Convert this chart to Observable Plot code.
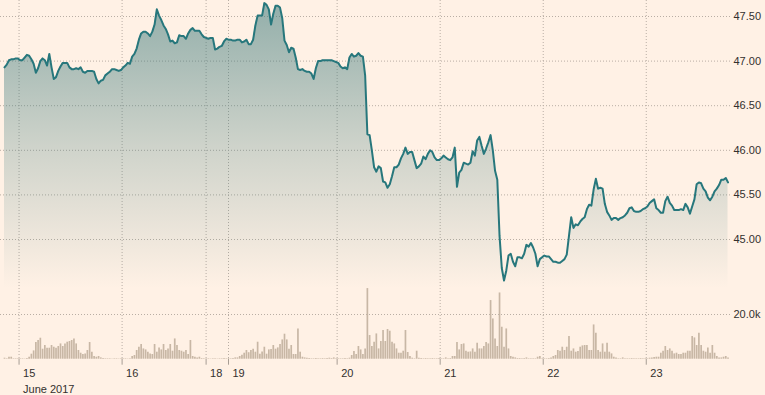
<!DOCTYPE html>
<html><head><meta charset="utf-8">
<script src="https://cdn.jsdelivr.net/npm/d3@7"></script>
<script src="https://cdn.jsdelivr.net/npm/@observablehq/plot@0.6"></script>
<style>
html,body{margin:0;padding:0;background:#fff1e5;}
#chart{position:relative;width:765px;height:395px;background:#fff1e5;overflow:hidden;}
#chart svg{position:absolute;left:0;top:0;}
</style></head><body><div id="chart"></div>
<script>
// Price per half-hour slot (index = slot)
const prices = [
46.93,46.96,47.01,47.02,47.02,47.03,47.03,47.01,47.01,47.04,
47.07,47.06,47.02,46.97,46.87,46.92,47.00,47.03,47.01,46.95,
47.08,46.93,46.80,46.82,46.89,46.94,46.98,46.98,46.98,46.93,
46.91,46.91,46.92,46.91,46.93,46.88,46.87,46.89,46.89,46.89,
46.88,46.80,46.75,46.78,46.79,46.84,46.86,46.88,46.91,46.91,
46.90,46.89,46.90,46.93,46.95,46.98,46.97,47.05,47.08,47.14,
47.24,47.31,47.33,47.33,47.31,47.28,47.33,47.41,47.58,47.51,
47.46,47.40,47.36,47.30,47.22,47.23,47.20,47.21,47.29,47.28,
47.28,47.25,47.31,47.35,47.37,47.34,47.34,47.34,47.30,47.27,
47.26,47.25,47.26,47.26,47.13,47.14,47.16,47.17,47.22,47.25,
47.24,47.24,47.23,47.23,47.24,47.24,47.21,47.22,47.24,47.19,
47.19,47.24,47.40,47.51,47.51,47.51,47.65,47.63,47.58,47.41,
47.53,47.62,47.62,47.60,47.48,47.23,47.18,47.10,47.15,47.14,
47.04,46.91,46.90,46.91,46.89,46.88,46.88,46.86,46.80,46.92,
47.00,47.00,47.01,47.01,47.01,47.01,47.01,47.00,46.99,46.98,
46.94,46.92,46.93,46.91,47.04,47.08,47.05,47.06,47.09,47.06,
47.05,46.84,46.18,46.17,46.00,45.81,45.76,45.82,45.80,45.65,
45.64,45.58,45.62,45.71,45.81,45.81,45.84,45.91,45.96,46.03,
45.96,45.98,45.98,45.89,45.80,45.82,45.85,45.93,45.90,45.96,
46.00,45.98,45.92,45.89,45.89,45.91,45.94,45.92,45.90,45.89,
45.92,46.03,45.59,45.75,45.78,45.86,45.85,45.84,45.86,45.99,
45.94,46.11,46.15,46.05,45.96,46.02,46.09,46.17,46.00,45.77,
45.67,45.04,44.68,44.54,44.65,44.82,44.84,44.75,44.70,44.80,
44.80,44.79,44.84,44.94,44.92,44.96,44.91,44.84,44.70,44.78,
44.80,44.82,44.81,44.81,44.78,44.75,44.75,44.74,44.74,44.76,
44.78,44.83,45.04,45.25,45.13,45.17,45.16,45.20,45.23,45.25,
45.34,45.39,45.38,45.56,45.68,45.57,45.58,45.57,45.40,45.31,
45.27,45.22,45.24,45.24,45.22,45.24,45.25,45.27,45.30,45.35,
45.36,45.32,45.31,45.31,45.32,45.34,45.35,45.37,45.41,45.43,
45.45,45.35,45.33,45.30,45.30,45.43,45.48,45.41,45.38,45.33,
45.33,45.33,45.34,45.33,45.40,45.36,45.29,45.37,45.45,45.62,
45.64,45.63,45.57,45.54,45.47,45.44,45.48,45.54,45.57,45.61,
45.67,45.67,45.69,45.64
];
// Volume per slot (contracts)
const volumes = [
450,220,890,890,220,220,220,220,220,130,
310,890,2240,3710,7460,8360,9390,4470,6120,4920,
4920,6120,5360,4920,5680,6840,5680,6840,7600,7910,
8360,9070,6840,3890,2680,2100,2370,3890,7460,3130,
1210,890,1210,580,310,220,220,220,130,220,
220,130,220,220,220,130,220,1210,1650,3890,
5360,6570,4600,4160,3130,2370,2100,6570,3130,5050,
4160,6570,3890,4600,6570,3580,9070,6120,3890,3580,
3130,3890,2100,8360,1210,890,580,890,310,220,
130,220,130,220,220,130,220,220,310,220,
220,220,310,580,580,1210,1790,2680,3890,2910,
3890,4470,3130,7600,2240,3260,5360,2240,4160,4340,
6120,4470,5050,6570,8630,11180,8630,4470,6120,2100,
2100,13540,3130,890,580,450,310,220,220,310,
220,220,310,220,310,450,310,580,220,220,
220,220,310,220,450,1650,3440,2100,5680,4160,
2100,4600,31600,10590,5680,7600,11310,4600,7910,12830,
7910,13280,12520,7600,6840,4600,2680,2680,3580,12830,
3000,1210,450,220,3580,450,310,220,310,220,
220,310,220,220,310,220,220,580,220,310,
1210,1210,7460,4160,6570,6840,3580,3130,3260,4600,
3130,7150,4600,4600,5680,7460,6840,26240,18010,9070,
5680,29640,14300,5360,13540,4600,1210,890,580,310,
310,220,310,580,220,220,220,220,890,1210,
220,220,220,310,580,1210,1650,3890,3580,5360,
3890,5360,10150,3580,4600,3130,3440,5360,5950,6120,
6120,3890,3890,15330,11620,3890,3130,6840,3130,7150,
3130,2370,890,580,220,220,580,220,220,220,
310,220,220,220,310,220,220,220,450,580,
760,890,890,2680,3580,5680,3890,4600,3580,2370,
2680,2100,2100,2680,2680,3580,3580,10150,9520,6120,
11620,6120,3580,3130,5050,2680,6120,2680,1210,580,
580,890,1210,580
];
// Day tick labels and the slot index where each day begins
const dayLabels = ["15","16","18","19","20","21","22","23"];
const dayStarts = [6.5, 52.5, 90, 100, 148.5, 194.5, 240.5, 286.5];
const monthLabel = "June 2017";
const priceTicks = [45, 45.5, 46, 46.5, 47, 47.5];
const volumeTicks = [20000];
const areaFloor = 44.45;

const rows = prices.map((p, i) => ({i, price: p, volume: volumes[i]}));
const ticks = dayLabels.map((label, k) => ({pos: dayStarts[k], label: k === 0 ? label + "\n" + monthLabel : label}));

const W = 765, H = 395, baseY = 358.7;
const font = "'Liberation Sans', Arial, sans-serif";
const textColor = "#33302e";
const gridColor = "#b9aea4";
const xScale = {domain: [-0.5, prices.length - 0.5], range: [2.88, 728.64], axis: null};
const baseStyle = {background: "transparent", fontFamily: font, fontSize: "11px", color: textColor, overflow: "visible"};

const gradientDefs = () => {
  const ns = "http://www.w3.org/2000/svg";
  const defs = document.createElementNS(ns, "defs");
  const g = document.createElementNS(ns, "linearGradient");
  g.setAttribute("id", "pfill");
  g.setAttribute("x1", "0"); g.setAttribute("y1", "0");
  g.setAttribute("x2", "0"); g.setAttribute("y2", "1");
  [[0, 0.55], [0.5, 0.25], [1, 0]].forEach(([o, a]) => {
    const s = document.createElementNS(ns, "stop");
    s.setAttribute("offset", o);
    s.setAttribute("stop-color", "#3a787a");
    s.setAttribute("stop-opacity", a);
    g.appendChild(s);
  });
  defs.appendChild(g);
  return defs;
};

const volPlot = Plot.plot({
  width: W, height: H, marginTop: 0, marginLeft: 0, marginRight: 35, marginBottom: H - baseY,
  style: baseStyle,
  x: xScale,
  y: {domain: [0, 20000], range: [baseY, 314], axis: null},
  marks: [
    Plot.ruleX(dayStarts, {stroke: gridColor, strokeDasharray: "1,2"}),
    Plot.ruleY(volumeTicks, {stroke: gridColor, strokeDasharray: "1,2"}),
    Plot.ruleX(rows, {x: "i", y1: 0, y2: "volume", stroke: "#c8b7a5", strokeWidth: 1.7}),
    Plot.axisX(dayStarts, {tickSize: 6, tickFormat: () => "", color: "#a79d94"}),
    Plot.text(ticks, {x: "pos", text: "label", frameAnchor: "bottom", lineAnchor: "top", textAnchor: "start", dx: 4, dy: 7.3, lineHeight: 1.4, fill: textColor}),
    Plot.text(volumeTicks, {y: d => d, text: d => (d / 1000).toFixed(1) + "k", frameAnchor: "right", textAnchor: "start", dx: 3, fill: textColor})
  ]
});

const pricePlot = Plot.plot({
  width: W, height: H, marginTop: 0, marginLeft: 0, marginRight: 35, marginBottom: H - baseY,
  style: baseStyle,
  x: xScale,
  y: {domain: [45, 47.5], range: [239, 16], axis: null},
  marks: [
    gradientDefs,
    Plot.ruleY(priceTicks, {stroke: gridColor, strokeDasharray: "1,2"}),
    Plot.areaY(rows, {x: "i", y1: areaFloor, y2: "price", fill: "url(#pfill)"}),
    Plot.lineY(rows, {x: "i", y: "price", stroke: "#27777c", strokeWidth: 2}),
    Plot.text(priceTicks, {y: d => d, text: d => d.toFixed(2), frameAnchor: "right", textAnchor: "start", dx: 3, fill: textColor})
  ]
});

const chart = document.getElementById("chart");
chart.appendChild(volPlot);
chart.appendChild(pricePlot);
</script>
</body></html>
